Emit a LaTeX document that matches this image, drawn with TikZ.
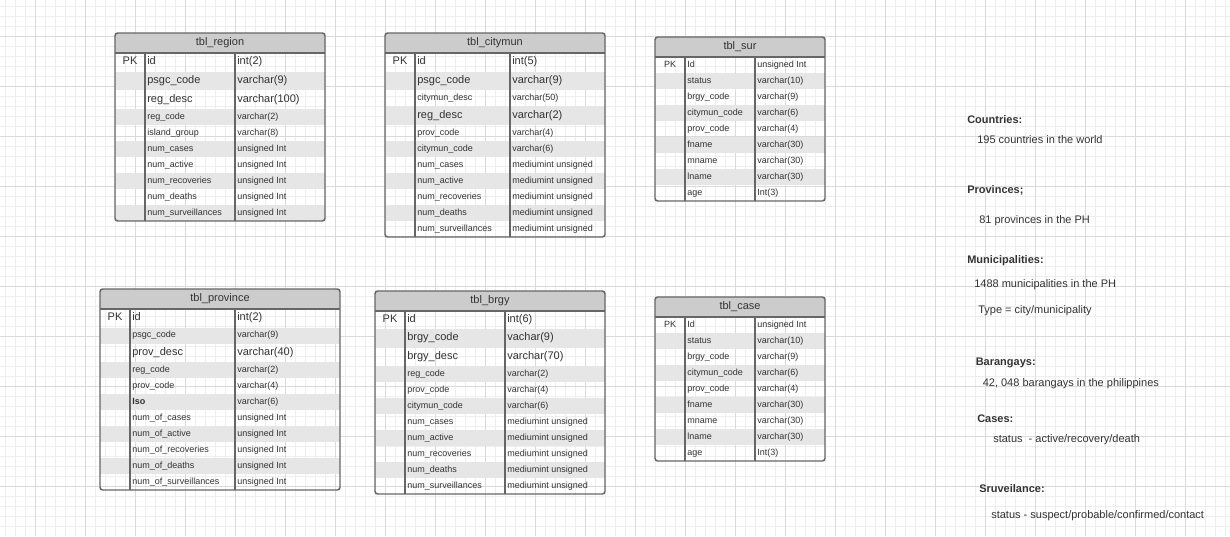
\documentclass[tikz,border=0pt]{standalone}
\usepackage{fontspec}
\setmainfont{Liberation Sans}

\definecolor{gridminor}{HTML}{EEEEEE}
\definecolor{gridmajor}{HTML}{DADADA}
\definecolor{tblborder}{HTML}{666666}
\definecolor{headgray}{HTML}{CCCCCC}
\definecolor{rowgray}{HTML}{E6E6E6}
\definecolor{txtgray}{HTML}{333333}

\newcommand\cellbigfont{\fontsize{8.25}{9.9}\selectfont}
\newcommand\cellsmallfont{\fontsize{6.75}{8.1}\selectfont}

\tikzset{
  minorgrid/.style={draw=gridminor, line width=0.75pt},
  majorgrid/.style={draw=gridmajor, line width=0.75pt},
  tblline/.style={draw=tblborder, line width=1.1pt},
  headfill/.style={fill=headgray},
  rowfill/.style={fill=rowgray},
  tbltitle/.style={font=\cellbigfont, text=txtgray, inner sep=0pt},
  cbig/.style={anchor=west, font=\cellbigfont, text=txtgray, inner sep=1.5pt,
    text height=0.72em, text depth=0.2em, yshift=0.8pt},
  csmall/.style={cbig, font=\cellsmallfont},
  pkbig/.style={cbig, anchor=center},
  pksmall/.style={csmall, anchor=center},
  note/.style={anchor=west, font=\cellbigfont, text=txtgray, inner sep=0pt,
    text height=0.72em, text depth=0.2em},
  notehead/.style={note, font=\cellbigfont\bfseries},
}

\begin{document}
\begin{tikzpicture}[x=0.75pt, y=-0.75pt]
  \useasboundingbox (0,0) rectangle (1230,536);
  \fill[white] (0,0) rectangle (1230,536);

  % grid
  \foreach \gx in {5,15,...,1225} \draw[minorgrid] (\gx,0) -- (\gx,536);
  \foreach \gy in {6,16,...,526} \draw[minorgrid] (0,\gy) -- (1230,\gy);
  \foreach \gx in {35,85,...,1185} \draw[majorgrid] (\gx,0) -- (\gx,536);
  \foreach \gy in {36,86,...,486} \draw[majorgrid] (0,\gy) -- (1230,\gy);

  % tbl_region
  \begin{scope}
    \clip[rounded corners=2pt] (115,33) rectangle (325,221);
    \fill[headfill] (115,33) rectangle (325,53);
    \foreach \ya/\yb in {71.67/90.33,109/125,141/157,173/189,205/221}
      \fill[rowfill] (115,\ya) rectangle (325,\yb);
  \end{scope}
  \draw[tblline, rounded corners=2pt] (115,33) rectangle (325,221);
  \draw[tblline] (115,53) -- (325,53) (145,53) -- (145,221) (235,53) -- (235,221);
  \node[tbltitle] (region) at (220,43) {tbl\_region};
  \node[pkbig] (region-pk) at (130,62.33) {PK};
  \foreach \yy/\nm/\ty/\sty [count=\i] in {
      62.33/id/int(2)/cbig, 81/psgc\_code/varchar(9)/cbig,
      99.67/reg\_desc/varchar(100)/cbig, 117/reg\_code/varchar(2)/csmall,
      133/island\_group/varchar(8)/csmall, 149/num\_cases/unsigned Int/csmall,
      165/num\_active/unsigned Int/csmall, 181/num\_recoveries/unsigned Int/csmall,
      197/num\_deaths/unsigned Int/csmall, 213/num\_surveillances/unsigned Int/csmall}
  {
    \node[\sty] (region-n\i) at (145,\yy) {\nm};
    \node[\sty] (region-t\i) at (235,\yy) {\ty};
  }

  % tbl_citymun
  \begin{scope}
    \clip[rounded corners=2pt] (385,33) rectangle (605,237);
    \fill[headfill] (385,33) rectangle (605,53);
    \foreach \ya/\yb in {71.67/90.33,106.33/125,141/157,173/189,205/221}
      \fill[rowfill] (385,\ya) rectangle (605,\yb);
  \end{scope}
  \draw[tblline, rounded corners=2pt] (385,33) rectangle (605,237);
  \draw[tblline] (385,53) -- (605,53) (415,53) -- (415,237) (510,53) -- (510,237);
  \node[tbltitle] (citymun) at (495,43) {tbl\_citymun};
  \node[pkbig] (citymun-pk) at (400,62.33) {PK};
  \foreach \yy/\nm/\ty/\sty [count=\i] in {
      62.33/id/int(5)/cbig, 81/psgc\_code/varchar(9)/cbig,
      98.33/citymun\_desc/varchar(50)/csmall, 115.67/reg\_desc/varchar(2)/cbig,
      133/prov\_code/varchar(4)/csmall, 149/citymun\_code/varchar(6)/csmall,
      165/num\_cases/mediumint unsigned/csmall, 181/num\_active/mediumint unsigned/csmall,
      197/num\_recoveries/mediumint unsigned/csmall, 213/num\_deaths/mediumint unsigned/csmall,
      229/num\_surveillances/mediumint unsigned/csmall}
  {
    \node[\sty] (citymun-n\i) at (415,\yy) {\nm};
    \node[\sty] (citymun-t\i) at (510,\yy) {\ty};
  }

  % tbl_sur
  \begin{scope}
    \clip[rounded corners=2pt] (655,37) rectangle (825,201);
    \fill[headfill] (655,37) rectangle (825,57);
    \foreach \ya/\yb in {73/89,105/121,137/153,169/185}
      \fill[rowfill] (655,\ya) rectangle (825,\yb);
  \end{scope}
  \draw[tblline, rounded corners=2pt] (655,37) rectangle (825,201);
  \draw[tblline] (655,57) -- (825,57) (685,57) -- (685,201) (755,57) -- (755,201);
  \node[tbltitle] (sur) at (740,47) {tbl\_sur};
  \node[pksmall] (sur-pk) at (670,65) {PK};
  \foreach \yy/\nm/\ty [count=\i] in {
      65/Id/unsigned Int, 81/status/varchar(10), 97/brgy\_code/varchar(9),
      113/citymun\_code/varchar(6), 129/prov\_code/varchar(4), 145/fname/varchar(30),
      161/mname/varchar(30), 177/lname/varchar(30), 193/age/Int(3)}
  {
    \node[csmall] (sur-n\i) at (685,\yy) {\nm};
    \node[csmall] (sur-t\i) at (755,\yy) {\ty};
  }

  % tbl_province
  \begin{scope}
    \clip[rounded corners=2pt] (100,289) rectangle (340,490);
    \fill[headfill] (100,289) rectangle (340,309);
    \foreach \ya/\yb in {327.5/343.5,362/378,394/410,426/442,458/474}
      \fill[rowfill] (100,\ya) rectangle (340,\yb);
  \end{scope}
  \draw[tblline, rounded corners=2pt] (100,289) rectangle (340,490);
  \draw[tblline] (100,309) -- (340,309) (130,309) -- (130,490) (235,309) -- (235,490);
  \node[tbltitle] (province) at (220,299) {tbl\_province};
  \node[pkbig] (province-pk) at (115,318.25) {PK};
  \foreach \yy/\nm/\ty/\sty [count=\i] in {
      318.25/id/int(2)/cbig, 335.5/psgc\_code/varchar(9)/csmall,
      352.75/prov\_desc/varchar(40)/cbig, 370/reg\_code/varchar(2)/csmall,
      386/prov\_code/varchar(4)/csmall, 402/\textbf{Iso}/varchar(6)/csmall,
      418/num\_of\_cases/unsigned Int/csmall, 434/num\_of\_active/unsigned Int/csmall,
      450/num\_of\_recoveries/unsigned Int/csmall, 466/num\_of\_deaths/unsigned Int/csmall,
      482/num\_of\_surveillances/unsigned Int/csmall}
  {
    \node[\sty] (province-n\i) at (130,\yy) {\nm};
    \node[\sty] (province-t\i) at (235,\yy) {\ty};
  }

  % tbl_brgy
  \begin{scope}
    \clip[rounded corners=2pt] (375,291) rectangle (605,494);
    \fill[headfill] (375,291) rectangle (605,311);
    \foreach \ya/\yb in {329.33/347.67,366/382,398/414,430/446,462/478}
      \fill[rowfill] (375,\ya) rectangle (605,\yb);
  \end{scope}
  \draw[tblline, rounded corners=2pt] (375,291) rectangle (605,494);
  \draw[tblline] (375,311) -- (605,311) (405,311) -- (405,494) (505,311) -- (505,494);
  \node[tbltitle] (brgy) at (490,301) {tbl\_brgy};
  \node[pkbig] (brgy-pk) at (390,320.17) {PK};
  \foreach \yy/\nm/\ty/\sty [count=\i] in {
      320.17/id/int(6)/cbig, 338.5/brgy\_code/vachar(9)/cbig,
      356.83/brgy\_desc/varchar(70)/cbig, 374/reg\_code/varchar(2)/csmall,
      390/prov\_code/varchar(4)/csmall, 406/citymun\_code/varchar(6)/csmall,
      422/num\_cases/mediumint unsigned/csmall, 438/num\_active/mediumint unsigned/csmall,
      454/num\_recoveries/mediumint unsigned/csmall, 470/num\_deaths/mediumint unsigned/csmall,
      486/num\_surveillances/mediumint unsigned/csmall}
  {
    \node[\sty] (brgy-n\i) at (405,\yy) {\nm};
    \node[\sty] (brgy-t\i) at (505,\yy) {\ty};
  }

  % tbl_case
  \begin{scope}
    \clip[rounded corners=2pt] (655,297) rectangle (825,461);
    \fill[headfill] (655,297) rectangle (825,317);
    \foreach \ya/\yb in {333/349,365/381,397/413,429/445}
      \fill[rowfill] (655,\ya) rectangle (825,\yb);
  \end{scope}
  \draw[tblline, rounded corners=2pt] (655,297) rectangle (825,461);
  \draw[tblline] (655,317) -- (825,317) (685,317) -- (685,461) (755,317) -- (755,461);
  \node[tbltitle] (case) at (740,307) {tbl\_case};
  \node[pksmall] (case-pk) at (670,325) {PK};
  \foreach \yy/\nm/\ty [count=\i] in {
      325/Id/unsigned Int, 341/status/varchar(10), 357/brgy\_code/varchar(9),
      373/citymun\_code/varchar(6), 389/prov\_code/varchar(4), 405/fname/varchar(30),
      421/mname/varchar(30), 437/lname/varchar(30), 453/age/Int(3)}
  {
    \node[csmall] (case-n\i) at (685,\yy) {\nm};
    \node[csmall] (case-t\i) at (755,\yy) {\ty};
  }

  % notes
  \node[notehead] (countries) at (967,120) {Countries:};
  \node[note] (countries-txt) at (977,140) {195 countries in the world};
  \node[notehead] (provinces) at (967,190) {Provinces;};
  \node[note] (provinces-txt) at (979,220) {81 provinces in the PH};
  \node[notehead] (municipalities) at (967,260) {Municipalities:};
  \node[note] (municipalities-txt) at (974,284) {1488 municipalities in the PH};
  \node[note] (municipalities-type) at (978,310) {Type = city/municipality};
  \node[notehead] (barangays) at (975.5,362.5) {Barangays:};
  \node[note] (barangays-txt) at (982.5,383) {42, 048 barangays in the philippines};
  \node[notehead] (cases) at (977,419) {Cases:};
  \node[note] (cases-txt) at (993,439) {status~ - active/recovery/death};
  \node[notehead] (surveilance) at (979,489) {Sruveilance:};
  \node[note] (surveilance-txt) at (991,515) {status - suspect/probable/confirmed/contact};
\end{tikzpicture}
\end{document}
